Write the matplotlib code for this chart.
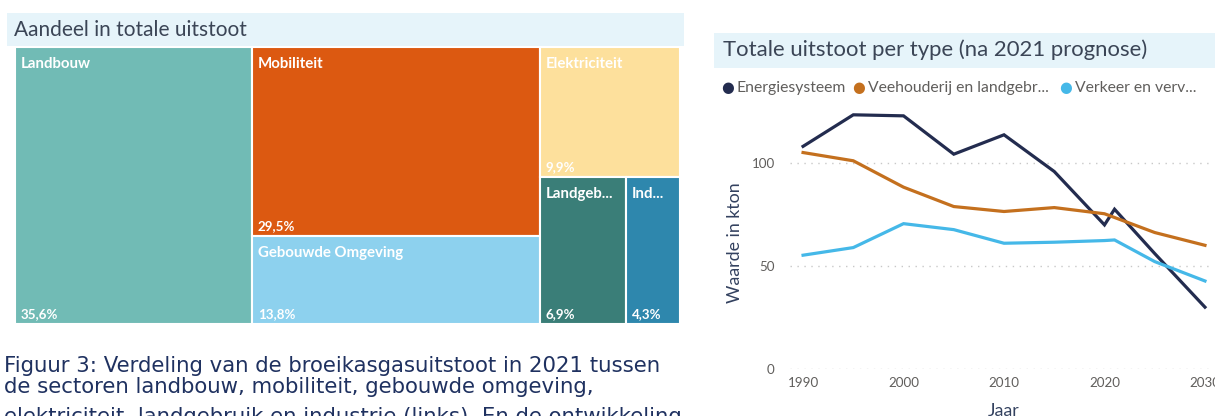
import matplotlib.pyplot as plt
from matplotlib.patches import Rectangle

# treemap data (share of total emissions 2021)
sectors = ["Landbouw", "Mobiliteit", "Gebouwde Omgeving", "Elektriciteit", "Landgebruik", "Industrie"]
sector_labels = ["Landbouw", "Mobiliteit", "Gebouwde Omgeving", "Elektriciteit", "Landgeb...", "Ind..."]
shares = [35.6, 29.5, 13.8, 9.9, 6.9, 4.3]
sector_colors = ["#71bbb5", "#dc5911", "#8dd1ee", "#fde09c", "#3a7e78", "#2e87ad"]
# nesting of the treemap: columns, then rows, then columns
tree = [0, [1, 2], [3, [4, 5]]]

# line chart data (kton)
years = [1990, 1995, 2000, 2005, 2010, 2015, 2020, 2021, 2025, 2030]
energie = [108, 123.3, 122.8, 104.2, 113.6, 95.8, 69.9, 77.5, 56, 30]
veehouderij = [105, 101, 88.2, 78.8, 76.4, 78.3, 75.3, 73.5, 66.2, 60]
verkeer = [55.2, 58.9, 70.5, 67.6, 61, 61.5, 62.3, 62.6, 52.1, 42.7]
series_names = ["Energiesysteem", "Veehouderij en landgebr...", "Verkeer en verv..."]
series_colors = ["#232c4f", "#c4701e", "#45b8e8"]

caption_lines = [
    "Figuur 3: Verdeling van de broeikasgasuitstoot in 2021 tussen",
    "de sectoren landbouw, mobiliteit, gebouwde omgeving,",
    "elektriciteit, landgebruik en industrie (links). En de ontwikkeling",
]

W, H = 1215, 416


def fbox(x0, y0, x1, y1):
    # pixel box (top-left origin) -> figure fraction rect
    return [x0 / W, 1 - y1 / H, (x1 - x0) / W, (y1 - y0) / H]


def total(node):
    if isinstance(node, int):
        return shares[node]
    return sum(total(c) for c in node)


def layout(node, x, y, w, h, horizontal, out):
    if isinstance(node, int):
        out[node] = (x, y, w, h)
        return
    t = total(node)
    for child in node:
        f = total(child) / t
        if horizontal:
            layout(child, x, y, w * f, h, False, out)
            x += w * f
        else:
            layout(child, x, y, w, h * f, True, out)
            y += h * f


fig = plt.figure(figsize=(W / 100, H / 100), dpi=100)

# ---- left: treemap ----
fig.add_artist(Rectangle((7 / W, 1 - 46 / H), 677 / W, 33 / H, transform=fig.transFigure,
                         facecolor="#e6f4fa", edgecolor="none"))
fig.text(14 / W, 1 - 30 / H, "Aandeel in totale uitstoot", family="Lato", size=15,
         color="#3b4556", va="center")

ax = fig.add_axes(fbox(15, 47, 680, 324))
ax.set_xlim(0, 1)
ax.set_ylim(1, 0)
ax.axis("off")
rects = {}
layout(tree, 0, 0, 1, 1, True, rects)
for i, (x, y, w, h) in rects.items():
    ax.add_patch(Rectangle((x, y), w, h, facecolor=sector_colors[i], edgecolor="white", lw=1.5))
    ax.annotate(sector_labels[i], (x, y), xytext=(6, -21), textcoords="offset pixels",
                family="Lato", weight="bold", size=10.8, color="white", va="baseline", ha="left")
    ax.annotate(f"{shares[i]:.1f}%".replace(".", ","), (x, y + h), xytext=(6, 6),
                textcoords="offset pixels", family="Lato", weight="bold", size=9.6,
                color="white", va="baseline", ha="left")

caption_y = [372.3, 393.3, 423]
for line, cy in zip(caption_lines, caption_y):
    fig.text(4 / W, 1 - cy / H, line, family="DejaVu Sans", size=15.3,
             color="#1f3160", va="baseline")

# ---- right: line chart ----
fig.add_artist(Rectangle((714 / W, 1 - 68 / H), 501 / W, 35 / H, transform=fig.transFigure,
                         facecolor="#e6f4fa", edgecolor="none"))
fig.text(723 / W, 1 - 50 / H, "Totale uitstoot per type (na 2021 prognose)", family="Lato",
         size=15.9, color="#3b4556", va="center")

legend_x = [728, 859, 1066]
for lx, name, c in zip(legend_x, series_names, series_colors):
    fig.text(lx / W, 1 - 88 / H, "\u25cf", family="DejaVu Sans", size=10.5, color=c,
             va="center", ha="center")
    fig.text((lx + 9) / W, 1 - 88 / H, name, family="Lato", size=11.3, color="#605e5c",
             va="center")

ax2 = fig.add_axes(fbox(790, 101, 1213, 369))
for vals, c in zip([energie, veehouderij, verkeer], series_colors):
    ax2.plot(years, vals, color=c, lw=2.3, solid_joinstyle="miter", clip_on=False)
ax2.set_xlim(1988.7, 2030.8)
ax2.set_ylim(0, 130)
ax2.set_yticks([0, 50, 100])
ax2.set_xticks([1990, 2000, 2010, 2020, 2030])
ax2.grid(axis="y", color="#c8c8c8", linestyle=(0, (1, 4)), lw=1)
ax2.set_axisbelow(True)
for s in ax2.spines.values():
    s.set_visible(False)
ax2.tick_params(length=0, labelsize=9.6, labelcolor="#605e5c", pad=6)
ax2.tick_params(axis="y", pad=11)
for lab in ax2.get_xticklabels() + ax2.get_yticklabels():
    lab.set_family("Lato")
ax2.set_ylabel("Waarde in kton", family="Lato", size=12.8, color="#33415f")
ax2.yaxis.set_label_coords(-0.112, 0.47)
ax2.set_xlabel("Jaar", family="Lato", size=12.8, color="#33415f")
ax2.xaxis.set_label_coords(0.505, -0.125)

fig.savefig("out.png", dpi=100)
